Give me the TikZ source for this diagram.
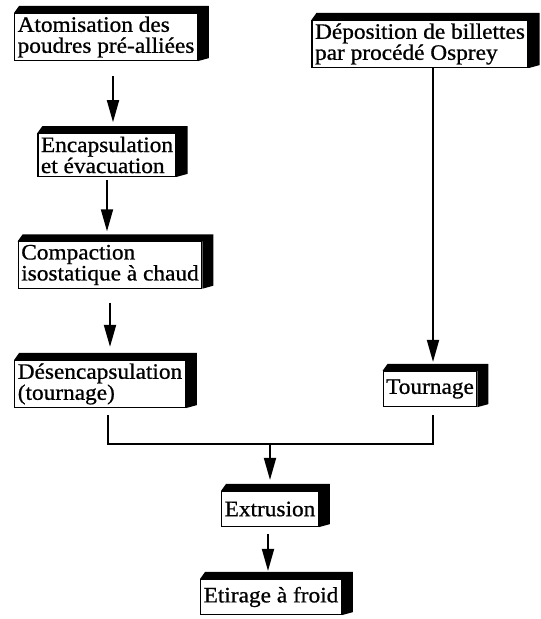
\documentclass[tikz,border=0pt]{standalone}
\usepackage{fontspec}
\setmainfont[FakeStretch=1.06, FakeBold=0.8]{Liberation Serif}
\usetikzlibrary{arrows.meta, calc}
\tikzset{
    stepBox/.style={rectangle, draw, fill=white, line width=1.2pt, align=left, inner xsep=3pt, inner ysep=3pt, font=\fontsize{22}{21}\selectfont},
    flowLine/.style={line width=1.8pt},
    flowArrow/.style={-{Triangle[length=22pt, width=12pt]}, line width=1.8pt},
}
\newcommand{\boxDepth}[1]{
    \fill (#1.north west) -- ++(5,-7) -- ($(#1.north east)+(11,-7)$) -- ($(#1.south east)+(11,-3)$) -- (#1.south east) -- (#1.north east) -- cycle;
}
\begin{document}
\begin{tikzpicture}[x=1pt, y=-1pt]
    \useasboundingbox (0,0) rectangle (541,619);

    \node[stepBox] (atom) at (106,37) {Atomisation des\\poudres pré-alliées};
    \node[stepBox] (osprey) at (420,44) {Déposition de billettes\\par procédé Osprey};
    \node[stepBox] (encap) at (107,155) {Encapsulation\\et évacuation};
    \node[stepBox] (hip) at (110,265) {Compaction\\isostatique à chaud};
    \node[stepBox] (desenc) at (100,384) {Désencapsulation\\(tournage)};
    \node[stepBox, minimum height=35pt] (tourn) at (430,389) {Tournage};
    \node[stepBox, minimum height=35pt] (extr) at (270,509) {Extrusion};
    \node[stepBox, minimum height=35pt] (etir) at (271,597) {Etirage à froid};

    \foreach \b in {atom, osprey, encap, hip, desenc, tourn, extr, etir} {
        \boxDepth{\b}
    }

    % left chain
    \draw[flowArrow, shorten <=15pt, shorten >=11pt] ([xshift=7pt]atom.south) -- ([xshift=7pt]atom.south |- encap.north);
    \draw[flowArrow, shorten <=3pt, shorten >=10pt] (encap.south) -- (encap.south |- hip.north);
    \draw[flowArrow, shorten <=14pt, shorten >=13pt] (hip.south) -- (hip.south |- desenc.north);

    % join
    \coordinate (joinL) at (108,444);
    \coordinate (joinR) at (433,444);
    \coordinate (joinM) at (270,444);
    \draw[flowArrow, shorten >=9pt] (osprey.south -| joinR) -- (tourn.north -| joinR);
    \draw[flowLine, shorten <=7pt, shorten >=8pt] (desenc.south -| joinL) -- (joinL) -- (joinR) -- (tourn.south -| joinR);
    \draw[flowArrow, shorten >=11pt] (joinM) -- (extr.north);
    \draw[flowArrow, shorten <=7pt, shorten >=8pt] ([xshift=-2pt]extr.south) -- ([xshift=-2pt]extr.south |- etir.north);

\end{tikzpicture}
\end{document}
